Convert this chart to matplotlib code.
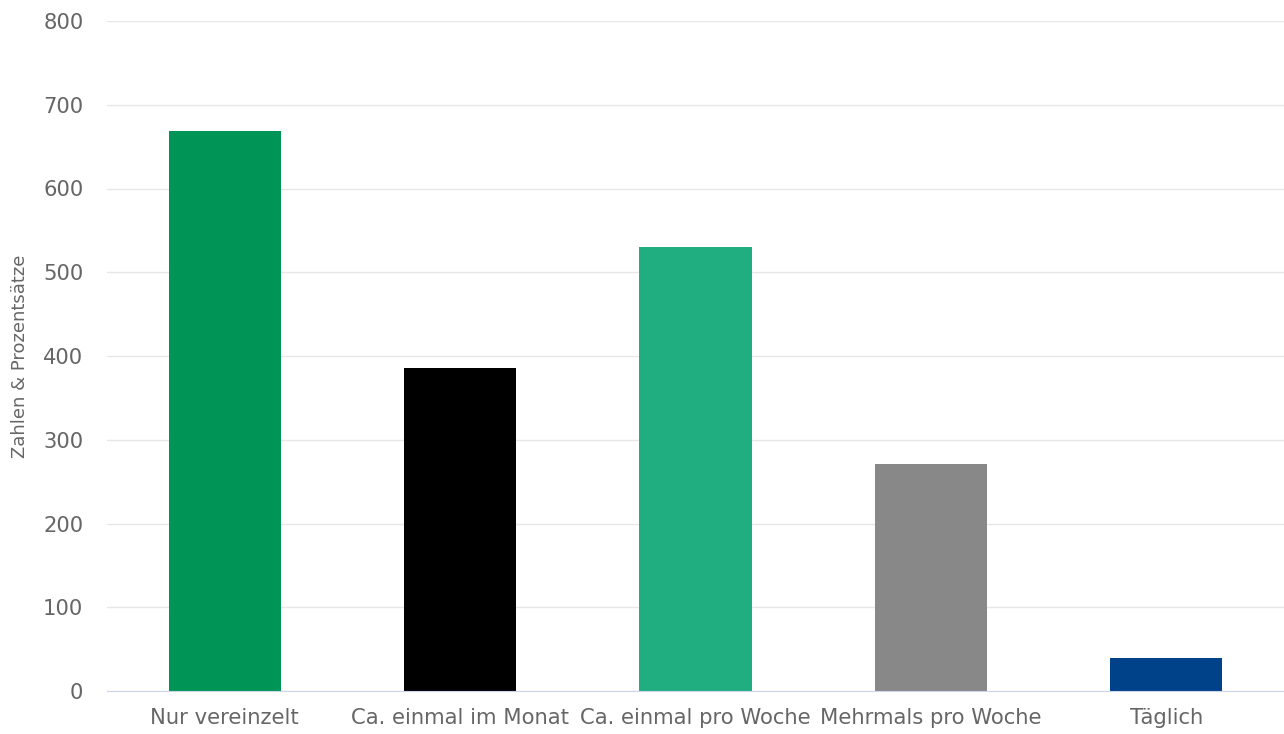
import matplotlib
matplotlib.use("Agg")
import matplotlib.pyplot as plt

categories = ["Nur vereinzelt", "Ca. einmal im Monat", "Ca. einmal pro Woche",
              "Mehrmals pro Woche", "Täglich"]
values = [669, 386, 530, 271, 39]
colors = ["#009456", "#000000", "#20ae80", "#888888", "#004289"]

plt.rcParams['font.family'] = ['DejaVu Sans']

fig = plt.figure(figsize=(12.84, 7.34), dpi=100)
ax = fig.add_axes([107 / 1284, 1 - 691 / 734, 1 - 107 / 1284, (691 - 21) / 734])

x = range(len(categories))
ax.bar(x, values, width=0.476, color=colors, zorder=3)

ax.set_xlim(-0.5, len(categories) - 0.5)
ax.set_ylim(0, 800)
ax.set_yticks(range(0, 801, 100))
ax.set_xticks(list(x))
ax.set_xticklabels(categories)

ax.grid(axis='y', color='#e6e6e6', linewidth=1, zorder=0)
for s in ['top', 'right', 'left']:
    ax.spines[s].set_visible(False)
ax.spines['bottom'].set_color('#ccd6eb')
ax.spines['bottom'].set_zorder(4)
ax.tick_params(axis='both', length=0, labelsize=15.2, labelcolor='#666666')
ax.tick_params(axis='y', pad=17)
ax.tick_params(axis='x', pad=12.5)

ax.set_ylabel("Zahlen & Prozentsätze", fontsize=13, color='#666666', labelpad=10.5)

fig.savefig("out.png", dpi=100)
